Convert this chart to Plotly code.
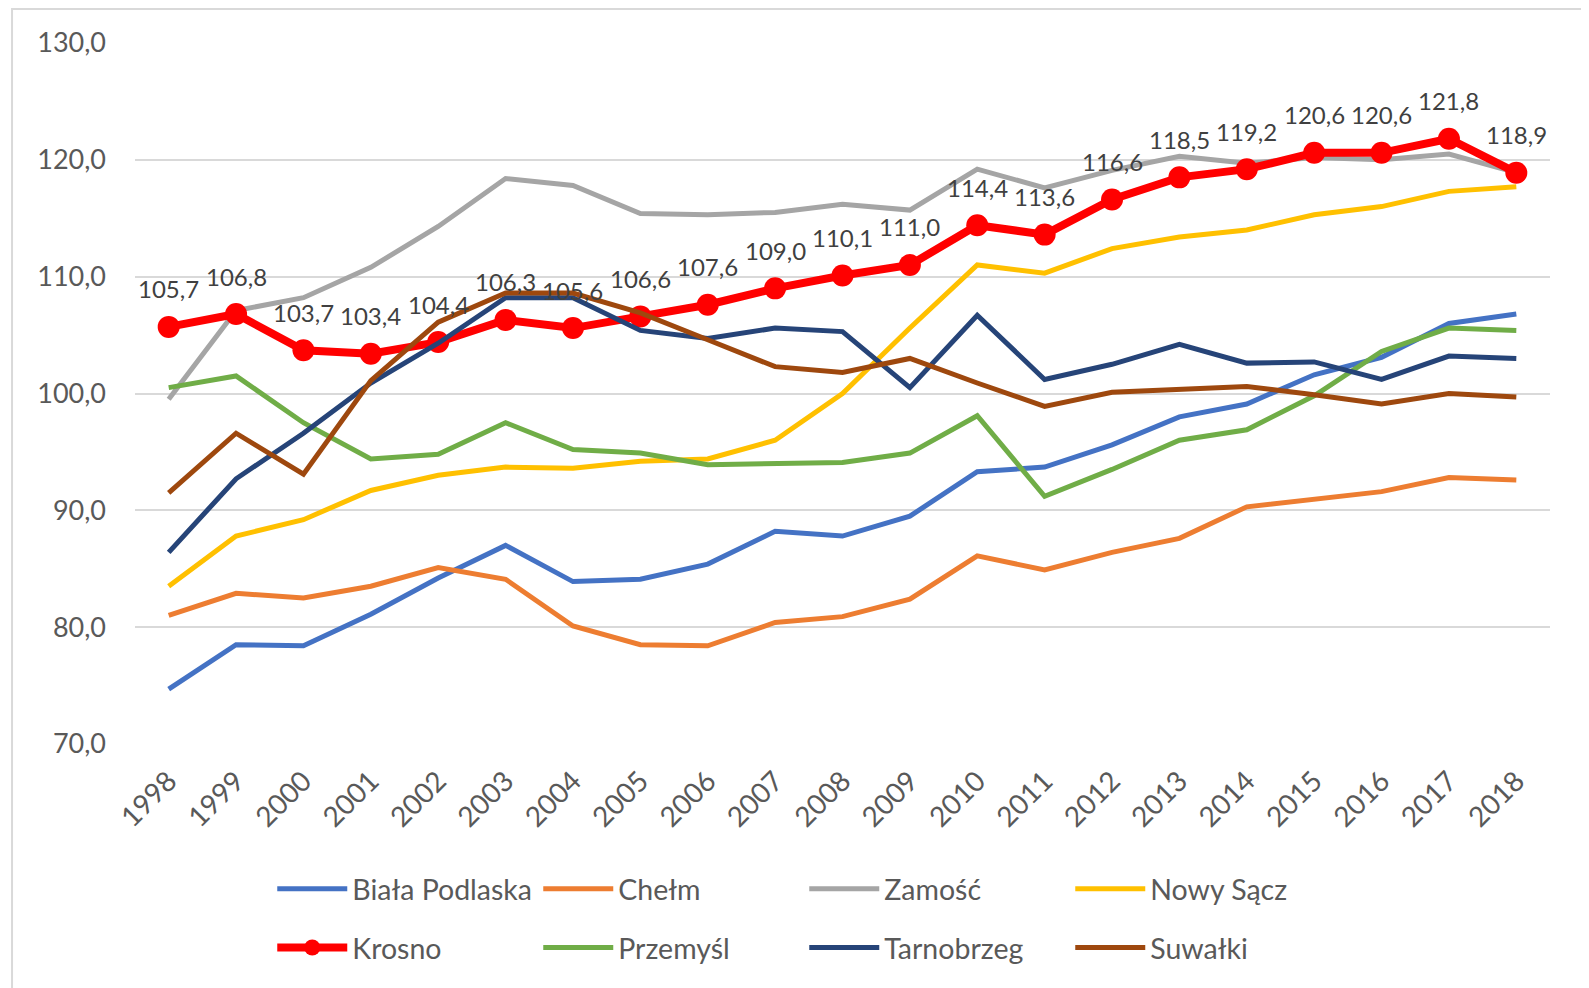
import plotly.graph_objects as go

years = [str(y) for y in range(1998, 2019)]

biala_podlaska = [74.7, 78.5, 78.4, 81.1, 84.2, 87.0, 83.9, 84.1, 85.4, 88.2, 87.8, 89.5, 93.3, 93.7, 95.6, 98.0, 99.1, 101.6, 103.1, 106.0, 106.8]
chelm = [81.0, 82.9, 82.5, 83.5, 85.1, 84.1, 80.1, 78.5, 78.4, 80.4, 80.9, 82.4, 86.1, 84.9, 86.4, 87.6, 90.3, 90.9, 91.6, 92.8, 92.6]
zamosc = [99.5, 107.1, 108.2, 110.8, 114.3, 118.4, 117.8, 115.4, 115.3, 115.5, 116.2, 115.7, 119.2, 117.6, 119.1, 120.3, 119.7, 120.2, 120.0, 120.5, 118.9]
nowy_sacz = [83.5, 87.8, 89.2, 91.7, 93.0, 93.7, 93.6, 94.2, 94.4, 96.0, 100.0, 105.6, 111.0, 110.3, 112.4, 113.4, 114.0, 115.3, 116.0, 117.3, 117.7]
krosno = [105.7, 106.8, 103.7, 103.4, 104.4, 106.3, 105.6, 106.6, 107.6, 109.0, 110.1, 111.0, 114.4, 113.6, 116.6, 118.5, 119.2, 120.6, 120.6, 121.8, 118.9]
przemysl = [100.5, 101.5, 97.5, 94.4, 94.8, 97.5, 95.2, 94.9, 93.9, 94.0, 94.1, 94.9, 98.1, 91.2, 93.5, 96.0, 96.9, 99.8, 103.6, 105.6, 105.4]
tarnobrzeg = [86.4, 92.7, 96.6, 100.9, 104.3, 108.2, 108.2, 105.4, 104.7, 105.6, 105.3, 100.5, 106.7, 101.2, 102.5, 104.2, 102.6, 102.7, 101.2, 103.2, 103.0]
suwalki = [91.5, 96.6, 93.1, 101.1, 106.1, 108.6, 108.6, 106.9, 104.6, 102.3, 101.8, 103.0, 100.9, 98.9, 100.1, 100.4, 100.6, 99.9, 99.1, 100.0, 99.7]

series_names = ["Biała Podlaska", "Chełm", "Zamość", "Nowy Sącz", "Krosno", "Przemyśl", "Tarnobrzeg", "Suwałki"]
series_values = [biala_podlaska, chelm, zamosc, nowy_sacz, krosno, przemysl, tarnobrzeg, suwalki]
series_colors = ["#4472C4", "#ED7D31", "#A5A5A5", "#FFC000", "#FF0000", "#70AD47", "#264478", "#9E480E"]

FONT = "Lato"
TXT = "#595959"

fig = go.Figure()
for i, (name, vals, col) in enumerate(zip(series_names, series_values, series_colors)):
    leg = "legend" if i < 4 else "legend2"
    if name == "Krosno":
        fig.add_trace(go.Scatter(
            x=years, y=vals, name=name, mode="lines+markers",
            line=dict(color=col, width=8),
            marker=dict(color=col, size=22),
            legend=leg,
        ))
    else:
        fig.add_trace(go.Scatter(
            x=years, y=vals, name=name, mode="lines",
            line=dict(color=col, width=5),
            legend=leg,
        ))

# data labels for Krosno (category index used as x position)
for idx, v in enumerate(krosno):
    fig.add_annotation(
        x=idx, y=v, text=f"{v:.1f}".replace(".", ","), showarrow=False,
        xref="x", yref="y",
        yshift=38, font=dict(family=FONT, size=24, color="#404040"),
    )

legend_common = dict(
    orientation="h", xanchor="left", yanchor="middle",
    font=dict(family=FONT, size=28.5, color=TXT),
    entrywidth=181, itemwidth=70, bgcolor="rgba(0,0,0,0)",
    tracegroupgap=0,
)

fig.update_layout(
    width=1581, height=980,
    margin=dict(l=127, r=39, t=35, b=244),
    paper_bgcolor="white", plot_bgcolor="white",
    separators=", ",
    font=dict(family=FONT, color=TXT),
    showlegend=True,
    legend=dict(x=0.097, y=-0.207, **legend_common),
    legend2=dict(x=0.097, y=-0.291, **legend_common),
    xaxis=dict(
        type="category", range=[-0.5, 20.5], showgrid=False, showline=False,
        zeroline=False, ticks="", tickangle=-45, ticklabelstandoff=14,
        tickfont=dict(family=FONT, size=28, color=TXT),
    ),
    yaxis=dict(
        range=[70, 130], dtick=10, tick0=70, tickformat=".1f",
        showgrid=True, gridcolor="#D9D9D9", gridwidth=2, showline=False,
        zeroline=False, ticks="", ticklabelstandoff=28,
        tickfont=dict(family=FONT, size=27, color=TXT),
    ),
    shapes=[dict(type="rect", xref="paper", yref="paper",
                 x0=-0.0869, x1=1.0269, y0=-0.5, y1=1.0485,
                 line=dict(color="#D9D9D9", width=2), fillcolor="rgba(0,0,0,0)",
                 layer="below")],
)

fig.write_html("out.html")
